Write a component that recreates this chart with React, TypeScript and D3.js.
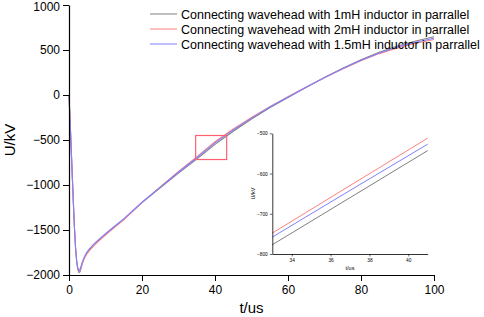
import { useRef, useEffect } from 'react'
import * as d3 from 'd3';

// time axis (us)
const times = [0, 0.3, 0.6, 0.9, 1.2, 1.5, 1.8, 2.1, 2.4, 2.7, 3.0, 3.3, 3.6, 4, 4.5, 5, 6, 7, 8, 10, 12, 15, 20, 25, 30, 35, 40, 45, 50, 55, 60, 65, 70, 75, 80, 85, 90, 95, 100];

// 1mH (gray)
const u1mH = [0, -290, -590, -900, -1200, -1480, -1700, -1850, -1935, -1972, -1965, -1925, -1880, -1830, -1782, -1748, -1695, -1652, -1615, -1545, -1478, -1380, -1195, -1030, -868, -712, -548, -402, -267, -142, -27, 85, 195, 298, 392, 475, 545, 600, 648];
// 2mH (red)
const u2mH = [0, -290, -590, -900, -1200, -1480, -1700, -1845, -1925, -1957, -1947, -1913, -1875, -1835, -1792, -1760, -1710, -1667, -1630, -1557, -1488, -1388, -1195, -1020, -850, -687, -520, -377, -249, -129, -19, 88, 192, 290, 380, 460, 523, 575, 616];
// 1.5mH (blue)
const u15mH = [0, -290, -590, -900, -1200, -1480, -1700, -1840, -1920, -1950, -1940, -1903, -1862, -1818, -1774, -1740, -1692, -1649, -1612, -1542, -1475, -1377, -1192, -1024, -858, -697, -532, -388, -257, -134, -22, 87, 195, 294, 386, 466, 533, 586, 630];

// zoomed detail (inset)
const insetTimes = [33, 37, 41];
const inset1mH = [-777, -660, -543];
const inset2mH = [-748, -630, -512];
const inset15mH = [-758, -642, -527];

const legendLabels = [
    "Connecting wavehead with 1mH inductor in parrallel",
    "Connecting wavehead with 2mH inductor in parrallel",
    "Connecting wavehead with 1.5mH inductor in parrallel"
];
const colors = ["#808080", "#ff8080", "#8080ff"];

const xTicks = [0, 20, 40, 60, 80, 100];
const yTicks = [1000, 500, 0, -500, -1000, -1500, -2000];
const insetXTicks = [34, 36, 38, 40];
const insetYTicks = [-500, -600, -700, -800];

// zoom window marked on the main chart
const boxT = [34.7, 43.2];
const boxU = [-717, -450];

function App() {
    const d3Container = useRef(null);

    const width = 484;
    const height = 317;

    useEffect(() => {
        const svg = d3.select(d3Container.current);
        svg.selectAll("*").remove();

        const font = "Arial, 'Liberation Sans', sans-serif";
        const fmt = d3.format("d");

        const x = d3.scaleLinear().domain([0, 100]).range([69, 434]);
        const y = d3.scaleLinear().domain([-2000, 1000]).range([275, 5]);

        const series = [u1mH, u2mH, u15mH];
        const line = d3.line<[number, number]>().x(d => x(d[0])).y(d => y(d[1]));

        series.forEach((vals, i) => {
            svg.append("path")
               .datum(times.map((t, j) => [t, vals[j]] as [number, number]))
               .attr("fill", "none")
               .attr("stroke", colors[i])
               .attr("stroke-width", 1.1)
               .attr("d", line);
        });

        // axes
        const xAxis = svg.append("g").attr("transform", `translate(0,${y(-2000)})`);
        xAxis.call(d3.axisBottom(x).tickValues(d3.range(10, 100, 20)).tickSize(3).tickFormat(() => ""));
        xAxis.call(d3.axisBottom(x).tickValues(xTicks).tickSize(6).tickSizeOuter(0).tickPadding(4).tickFormat(fmt));
        xAxis.selectAll("text").attr("font-size", 12).attr("font-family", font).attr("fill", "#000");

        const yAxis = svg.append("g").attr("transform", `translate(${x(0)},0)`);
        yAxis.call(d3.axisLeft(y).tickValues(d3.range(-1750, 1000, 500)).tickSize(3).tickFormat(() => ""));
        yAxis.call(d3.axisLeft(y).tickValues(yTicks).tickSize(6).tickSizeOuter(0).tickPadding(3).tickFormat(fmt));
        yAxis.selectAll("text").attr("font-size", 12).attr("font-family", font).attr("fill", "#000");
        // keep the top label inside the frame
        yAxis.selectAll("text").filter(d => d === 1000).attr("dy", "0.45em");
        svg.selectAll(".domain").attr("stroke-width", 1.2);

        svg.append("text")
           .attr("x", (x(0) + x(100)) / 2)
           .attr("y", 313)
           .attr("text-anchor", "middle")
           .attr("font-size", 15)
           .attr("font-family", font)
           .text("t/us");

        svg.append("text")
           .attr("transform", `translate(15,${(y(1000) + y(-2000)) / 2}) rotate(-90)`)
           .attr("text-anchor", "middle")
           .attr("font-size", 15)
           .attr("font-family", font)
           .text("U/kV");

        // zoom box
        svg.append("rect")
           .attr("x", x(boxT[0]))
           .attr("y", y(boxU[1]))
           .attr("width", x(boxT[1]) - x(boxT[0]))
           .attr("height", y(boxU[0]) - y(boxU[1]))
           .attr("fill", "none")
           .attr("stroke", "#ff6070")
           .attr("stroke-width", 1.2);

        // legend
        legendLabels.forEach((label, i) => {
            const ly = 14 + i * 15;
            svg.append("line")
               .attr("x1", 150).attr("x2", 177)
               .attr("y1", ly).attr("y2", ly)
               .attr("stroke", colors[i]);
            svg.append("text")
               .attr("x", 181)
               .attr("y", ly + 4.5)
               .attr("font-size", 12.5)
               .attr("font-family", font)
               .text(label);
        });

        // inset
        const ix = d3.scaleLinear().domain([33, 41]).range([272.3, 427.7]);
        const iy = d3.scaleLinear().domain([-800, -500]).range([254, 133.3]);
        const iline = d3.line<[number, number]>().x(d => ix(d[0])).y(d => iy(d[1]));
        const inset = svg.append("g");

        [inset1mH, inset2mH, inset15mH].forEach((vals, i) => {
            inset.append("path")
                 .datum(insetTimes.map((t, j) => [t, vals[j]] as [number, number]))
                 .attr("fill", "none")
                 .attr("stroke", colors[i])
                 .attr("stroke-width", 1)
                 .attr("d", iline);
        });

        const ixAxis = inset.append("g").attr("transform", `translate(0,${iy(-800)})`);
        ixAxis.call(d3.axisBottom(ix).tickValues(d3.range(35, 42, 2)).tickSize(1.5).tickFormat(() => ""));
        ixAxis.call(d3.axisBottom(ix).tickValues(insetXTicks).tickSize(2.5).tickSizeOuter(0).tickPadding(2));
        const iyAxis = inset.append("g").attr("transform", `translate(${ix(33)},0)`);
        iyAxis.call(d3.axisLeft(iy).tickValues([-550, -650, -750]).tickSize(1.5).tickFormat(() => ""));
        iyAxis.call(d3.axisLeft(iy).tickValues(insetYTicks).tickSize(2.5).tickSizeOuter(0).tickPadding(2));
        inset.selectAll(".domain").attr("stroke-width", 0.8);
        inset.selectAll("line").attr("stroke-width", 0.6);
        inset.selectAll("text").attr("font-size", 4.8).attr("font-family", font).attr("fill", "#000");

        inset.append("text")
             .attr("x", (ix(33) + ix(41)) / 2)
             .attr("y", 270)
             .attr("text-anchor", "middle")
             .attr("font-size", 5.5)
             .attr("font-family", font)
             .text("t/us");
        inset.append("text")
             .attr("transform", `translate(255,${(iy(-500) + iy(-800)) / 2}) rotate(-90)`)
             .attr("text-anchor", "middle")
             .attr("font-size", 5.5)
             .attr("font-family", font)
             .text("U/kV");
    });

    return (
        <svg ref={d3Container}
             width={width}
             height={height}
             style={{ position: 'absolute', left: 0, top: 0, background: '#fff' }} />
    )
}

export default App;
